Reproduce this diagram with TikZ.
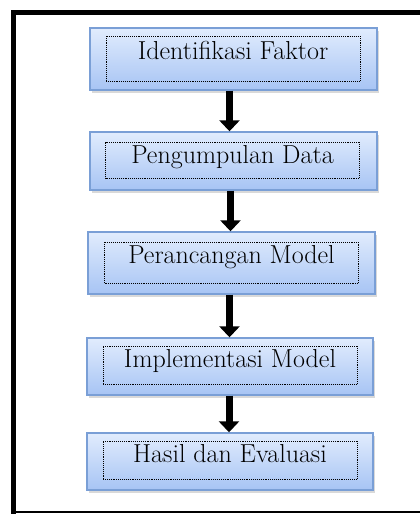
\documentclass[tikz,border=0pt]{standalone}
\usetikzlibrary{arrows.meta,shadows}
\definecolor{boxtop}{HTML}{E1ECFD}
\definecolor{boxbot}{HTML}{A7C4F4}
\definecolor{boxline}{HTML}{7A9FD6}
\begin{document}
\begin{tikzpicture}[x=1pt,y=-1pt,
  stepbox/.style={draw=boxline,line width=1.4pt,top color=boxtop,bottom color=boxbot,
    drop shadow={shadow xshift=2pt,shadow yshift=-3pt,opacity=0.3},minimum width=287pt,inner sep=0pt},
  dotbox/.style={draw,densely dotted,line width=0.9pt,minimum width=254pt,inner sep=0pt,
    text height=21pt,text depth=17pt,font=\fontsize{26}{30}\selectfont},
  flow/.style={line width=7pt,-{Triangle[width=20pt,length=11pt]}}]
  \useasboundingbox (0,0) rectangle (420,514);
  \draw[line width=5pt] (13,514) -- (13,12) -- (422,12);
  \draw[line width=1.5pt] (13,512) -- (422,512);
  \node[stepbox,minimum height=62pt] (identifikasi) at (233.5,59) {};
  \node[dotbox,anchor=base,text height=23pt,text depth=22pt] (tidentifikasi) at (233,59) {Identifikasi Faktor};
  \node[stepbox,minimum height=58pt] (pengumpulan) at (233.5,161) {};
  \node[dotbox,anchor=base,text depth=15pt] (tpengumpulan) at (232.5,163) {Pengumpulan Data};
  \node[stepbox,minimum height=62pt] (perancangan) at (231.5,263) {};
  \node[dotbox,anchor=base,text depth=20pt] (tperancangan) at (231.5,263) {Perancangan Model};
  \node[stepbox,minimum height=57pt,minimum width=286pt] (implementasi) at (230,366.5) {};
  \node[dotbox,anchor=base] (timplementasi) at (230,367) {Implementasi Model};
  \node[stepbox,minimum height=57pt,minimum width=286pt] (hasil) at (230,461.5) {};
  \node[dotbox,anchor=base] (thasil) at (230,462) {Hasil dan Evaluasi};
  \draw[flow] (identifikasi.south) ++(-4,0) coordinate (a1) -- (a1 |- pengumpulan.north);
  \draw[flow] (pengumpulan.south) ++(-3,0) coordinate (a2) -- (a2 |- perancangan.north);
  \draw[flow] (perancangan.south) ++(-2,0) coordinate (a3) -- (a3 |- implementasi.north);
  \draw[flow] (implementasi.south) ++(-1,0) coordinate (a4) -- (a4 |- hasil.north);
\end{tikzpicture}
\end{document}
